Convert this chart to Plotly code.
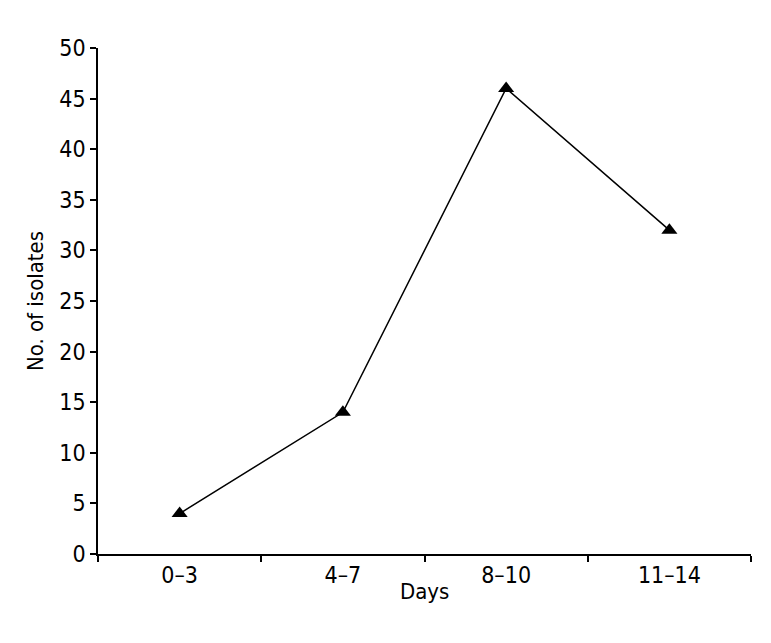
import plotly.graph_objects as go

categories = ["0–3", "4–7", "8–10", "11–14"]
isolates = [4, 14, 46, 32]
y_ticks = [0, 5, 10, 15, 20, 25, 30, 35, 40, 45, 50]

FONT = "Liberation Sans Narrow, DejaVu Sans Condensed, Arial Narrow, sans-serif"

fig = go.Figure()
fig.add_trace(go.Scatter(
    x=categories, y=isolates, mode="lines+markers",
    line=dict(color="black", width=1.5),
    marker=dict(symbol="triangle-up", size=14, color="black"),
    showlegend=False, cliponaxis=False,
))

fig.update_layout(
    width=771, height=643,
    margin=dict(l=90, r=28, t=40, b=97),
    paper_bgcolor="white", plot_bgcolor="white",
    font=dict(family=FONT, size=23, color="black"),
    xaxis=dict(
        type="category", range=[-0.5, 3.5],
        showline=True, linecolor="black", linewidth=1.5,
        ticks="outside", tickson="boundaries", ticklen=6, tickwidth=1.5, tickcolor="black",
        showgrid=False, zeroline=False,
    ),
    yaxis=dict(
        range=[0, 50], tickvals=y_ticks,
        showline=True, linecolor="black", linewidth=1.5,
        ticks="outside", ticklen=6, tickwidth=1.5, tickcolor="black",
        showgrid=False, zeroline=False,
        title=dict(text="No. of isolates", standoff=10, font=dict(size=22)),
    ),
    annotations=[dict(
        text="Days", xref="paper", yref="paper", x=0.5, y=-0.075,
        xanchor="center", yanchor="middle", showarrow=False,
        font=dict(size=22),
    )],
)

fig.write_html("out.html")
